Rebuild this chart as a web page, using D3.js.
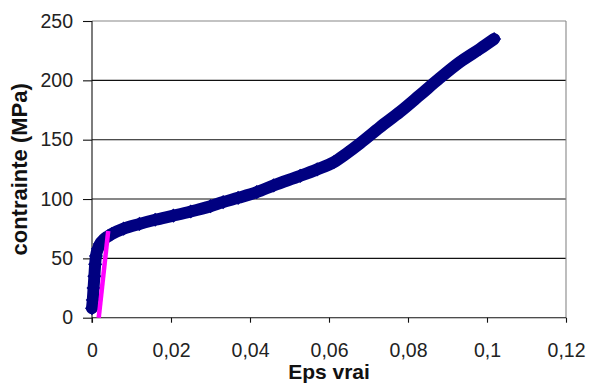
<!DOCTYPE html>
<html>
<head>
<meta charset="utf-8">
<script src="https://cdn.jsdelivr.net/npm/d3@7/dist/d3.min.js"></script>
<style>
  html, body { margin: 0; padding: 0; background: #fff; }
  svg { display: block; }
</style>
</head>
<body>
<svg id="chart" width="596" height="385"></svg>
<script>
// ---- data ----
const strainTrue = [0, 0.0002, 0.0004, 0.0006, 0.0008, 0.001, 0.0015, 0.002, 0.003, 0.004, 0.005,
  0.008, 0.012, 0.016, 0.0206, 0.025, 0.03, 0.0332, 0.037, 0.0417, 0.046, 0.0527, 0.057,
  0.0612, 0.0645, 0.0679, 0.0729, 0.078, 0.083, 0.0881, 0.0932, 0.0982, 0.1018];
const stress = [8, 15, 25, 35, 45, 52, 58, 62, 66, 68.5, 70.5,
  75, 79, 82.5, 86, 89.5, 94, 97.4, 101, 105.8, 111.5, 119.5, 125,
  131, 138.5, 147, 160.5, 173.5, 187.5, 202, 215.5, 226.5, 234.8];
const elasticStrain = [0.0017, 0.0041];
const elasticStress = [0, 73];
const xTickValues = [0, 0.02, 0.04, 0.06, 0.08, 0.1, 0.12];
const xTickLabels = ["0", "0,02", "0,04", "0,06", "0,08", "0,1", "0,12"];
const yTickValues = [0, 50, 100, 150, 200, 250];
const yTickLabels = ["0", "50", "100", "150", "200", "250"];
const xTitle = "Eps vrai";
const yTitle = "contrainte (MPa)";

// ---- layout ----
const svg = d3.select("#chart");
const L = 92, R = 566, T = 21, B = 317.7;
const x = d3.scaleLinear().domain([0, 0.12]).range([L, R]);
const y = d3.scaleLinear().domain([0, 250]).range([B, T]);
const font = "'Liberation Sans', Arial, sans-serif";

// gridlines
svg.append("g").selectAll("line")
  .data(yTickValues.filter(v => v > 0))
  .join("line")
  .attr("x1", L).attr("x2", R)
  .attr("y1", d => y(d)).attr("y2", d => y(d))
  .attr("stroke", d => d === 250 ? "#888" : "#111")
  .attr("stroke-width", 1.1);
// right border
svg.append("line").attr("x1", R).attr("x2", R).attr("y1", T).attr("y2", B)
  .attr("stroke", "#888").attr("stroke-width", 1.1);

// axes
const yAxis = d3.axisLeft(y).tickValues(yTickValues)
  .tickFormat((d, i) => yTickLabels[i]).tickSize(9).tickPadding(10);
const gy = svg.append("g").attr("transform", `translate(${L},0)`).call(yAxis);
const xAxis = d3.axisBottom(x).tickValues(xTickValues)
  .tickFormat((d, i) => xTickLabels[i]).tickSize(5).tickPadding(20);
const gx = svg.append("g").attr("transform", `translate(0,${B})`).call(xAxis);
[gx, gy].forEach(g => {
  g.select(".domain").remove();
  g.selectAll(".tick line").attr("stroke", "#111").attr("stroke-width", 1.1);
  g.selectAll(".tick text").attr("fill", "#222")
    .style("font-family", font).style("font-size", "19.5px");
});
// axis lines
svg.append("line").attr("x1", L).attr("x2", L).attr("y1", T).attr("y2", B + 5)
  .attr("stroke", "#111").attr("stroke-width", 1.1);
svg.append("line").attr("x1", L).attr("x2", R).attr("y1", B).attr("y2", B)
  .attr("stroke", "#111").attr("stroke-width", 1.1);

// navy series
const pts = strainTrue.map((s, i) => [s, stress[i]]);
const curve = d3.line().x(d => x(d[0])).y(d => y(d[1])).curve(d3.curveMonotoneX);
svg.append("path").datum(pts)
  .attr("d", curve)
  .attr("fill", "none")
  .attr("stroke", "#000080")
  .attr("stroke-width", 12)
  .attr("stroke-linejoin", "round")
  .attr("stroke-linecap", "round");
svg.append("g").selectAll("path")
  .data(pts)
  .join("path")
  .attr("d", d3.symbol().type(d3.symbolSquare).size(100))
  .attr("transform", d => `translate(${x(d[0])},${y(d[1])}) rotate(45)`)
  .attr("fill", "#000080");

// magenta elastic line
const line = d3.line().x(d => x(d[0])).y(d => y(d[1]));
const ePts = elasticStrain.map((s, i) => [s, elasticStress[i]]);
svg.append("path").datum(ePts)
  .attr("d", line)
  .attr("fill", "none")
  .attr("stroke", "#FF00FF")
  .attr("stroke-width", 4.5);

// titles
svg.append("text")
  .attr("x", (L + R) / 2).attr("y", 379)
  .attr("text-anchor", "middle")
  .style("font-family", font).style("font-weight", "bold").style("font-size", "21px")
  .attr("fill", "#111")
  .text(xTitle);
svg.append("text")
  .attr("transform", `translate(27,${(T + B) / 2}) rotate(-90)`)
  .attr("text-anchor", "middle")
  .style("font-family", font).style("font-weight", "bold").style("font-size", "22px")
  .attr("fill", "#111")
  .text(yTitle);
</script>
</body>
</html>
